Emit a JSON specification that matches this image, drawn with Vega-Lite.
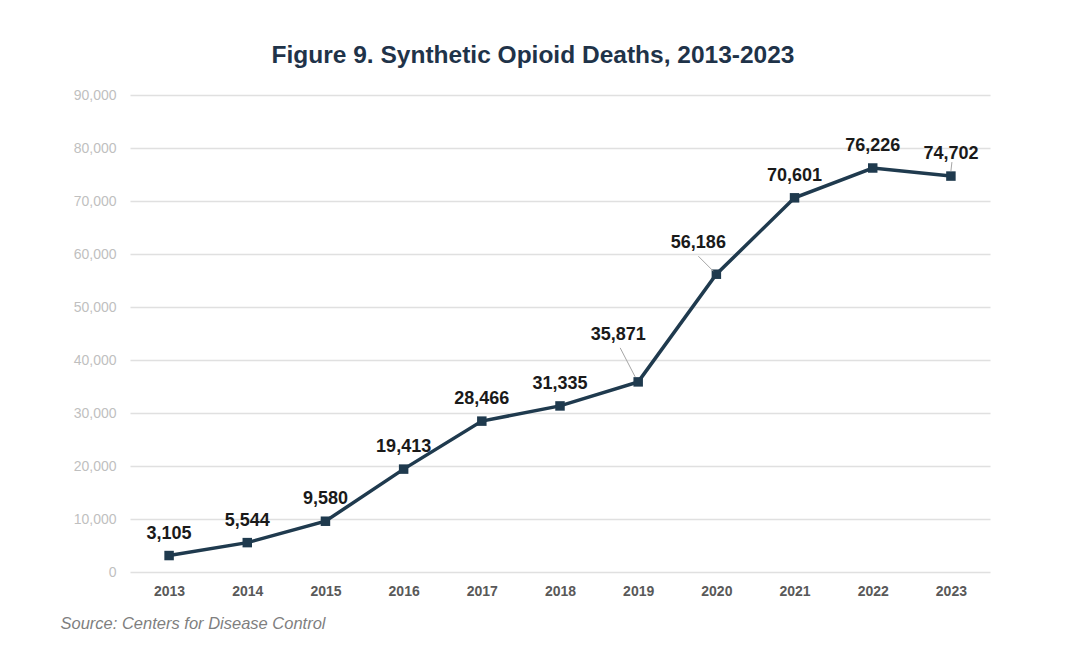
{
  "$schema": "https://vega.github.io/schema/vega-lite/v6.json",
  "width": 860,
  "height": 477,
  "autosize": {"type": "none"},
  "padding": {"left": 130, "top": 95, "right": 90, "bottom": 85},
  "background": "white",
  "config": {
    "view": {"stroke": null},
    "font": "Liberation Sans"
  },
  "title": {
    "text": "Figure 9. Synthetic Opioid Deaths, 2013-2023",
    "font": "Liberation Sans",
    "fontSize": 24.5,
    "fontWeight": "bold",
    "color": "#1f3349",
    "anchor": "middle",
    "frame": "group",
    "baseline": "alphabetic",
    "offset": 1,
    "dx": -27
  },
  "data": {
    "values": [
      {"year": "2013", "deaths": 3105},
      {"year": "2014", "deaths": 5544},
      {"year": "2015", "deaths": 9580},
      {"year": "2016", "deaths": 19413},
      {"year": "2017", "deaths": 28466},
      {"year": "2018", "deaths": 31335},
      {"year": "2019", "deaths": 35871},
      {"year": "2020", "deaths": 56186},
      {"year": "2021", "deaths": 70601},
      {"year": "2022", "deaths": 76226},
      {"year": "2023", "deaths": 74702}
    ]
  },
  "encoding": {
    "x": {
      "field": "year",
      "type": "ordinal",
      "scale": {"type": "point", "padding": 0.5},
      "axis": {
        "title": "Source: Centers for Disease Control",
        "titleFont": "Liberation Sans",
        "titleFontSize": 16.5,
        "titleFontStyle": "italic",
        "titleFontWeight": "normal",
        "titleColor": "#7f7f7f",
        "titleAlign": "left",
        "titleBaseline": "alphabetic",
        "titleX": -70,
        "titleY": 56,
        "labelAngle": 0,
        "labelFont": "Liberation Sans",
        "labelFontSize": 14,
        "labelFontWeight": "bold",
        "labelColor": "#595959",
        "labelPadding": 12,
        "ticks": false,
        "domain": false,
        "grid": false
      }
    },
    "y": {
      "field": "deaths",
      "type": "quantitative",
      "scale": {"domain": [0, 90000], "nice": false},
      "axis": {
        "title": null,
        "tickCount": 9,
        "format": ",.0f",
        "formatType": "number",
        "labelFont": "Liberation Sans",
        "labelFontSize": 14,
        "labelColor": "#bfbfbf",
        "labelPadding": 14,
        "ticks": false,
        "domain": false,
        "grid": true,
        "gridColor": "#e0e0e0",
        "gridWidth": 1.5
      }
    }
  },
  "layer": [
    {
      "mark": {"type": "line", "color": "#1f3a4e", "strokeWidth": 3.5}
    },
    {
      "mark": {"type": "square", "color": "#1f3a4e", "size": 90, "opacity": 1, "filled": true}
    },
    {
      "transform": [{"filter": "datum.year == '2019'"}],
      "mark": {"type": "rule", "color": "#a6a6a6", "strokeWidth": 1, "xOffset": -3, "yOffset": -5, "x2Offset": -18, "y2Offset": -34},
      "encoding": {
        "x2": {"field": "year"},
        "y2": {"field": "deaths"}
      }
    },
    {
      "transform": [{"filter": "datum.year == '2020'"}],
      "mark": {"type": "rule", "color": "#a6a6a6", "strokeWidth": 1, "xOffset": -3, "yOffset": -3, "x2Offset": -18, "y2Offset": -18},
      "encoding": {
        "x2": {"field": "year"},
        "y2": {"field": "deaths"}
      }
    },
    {
      "transform": [{"filter": "datum.year == '2023'"}],
      "mark": {"type": "rule", "color": "#a6a6a6", "strokeWidth": 1, "xOffset": 0, "yOffset": -5, "x2Offset": 1, "y2Offset": -14},
      "encoding": {
        "x2": {"field": "year"},
        "y2": {"field": "deaths"}
      }
    },
    {
      "transform": [{"filter": "datum.year != '2019' && datum.year != '2020'"}],
      "mark": {"type": "text", "font": "Liberation Sans", "fontSize": 18, "fontWeight": "bold", "color": "#1a1a1a", "baseline": "alphabetic", "dy": -17},
      "encoding": {"text": {"field": "deaths", "type": "quantitative", "format": ","}}
    },
    {
      "transform": [{"filter": "datum.year == '2019'"}],
      "mark": {"type": "text", "font": "Liberation Sans", "fontSize": 18, "fontWeight": "bold", "color": "#1a1a1a", "baseline": "alphabetic", "dx": -20, "dy": -42},
      "encoding": {"text": {"field": "deaths", "type": "quantitative", "format": ","}}
    },
    {
      "transform": [{"filter": "datum.year == '2020'"}],
      "mark": {"type": "text", "font": "Liberation Sans", "fontSize": 18, "fontWeight": "bold", "color": "#1a1a1a", "baseline": "alphabetic", "dx": -18, "dy": -26},
      "encoding": {"text": {"field": "deaths", "type": "quantitative", "format": ","}}
    }
  ]
}
